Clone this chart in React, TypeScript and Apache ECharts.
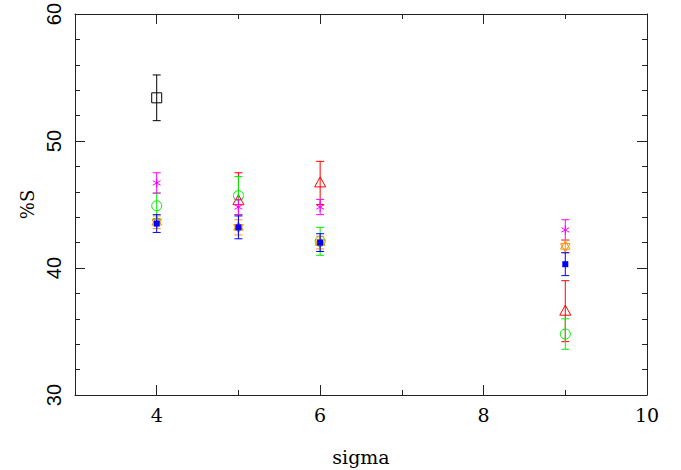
import React, { useEffect, useRef } from "react";
import * as echarts from "echarts";

const sigmaValues = [4, 5, 6, 9];

const blackVals = [53.4, null, null, null];
const blackErr = [1.8, null, null, null];
const redVals = [null, 45.3, 46.7, 36.6];
const redErr = [null, 2.2, 1.7, 2.4];
const greenVals = [44.9, 45.7, 42.1, 34.8];
const greenErr = [1.0, 1.5, 1.1, 1.2];
const magentaVals = [46.7, 44.8, 44.8, 43.0];
const magentaErr = [0.8, 0.6, 0.6, 0.8];
const orangeVals = [43.6, 43.2, 42.0, 41.7];
const orangeErr = [0.5, 0.6, 0.5, 0.5];
const blueVals = [43.5, 43.2, 42.0, 40.3];
const blueErr = [0.7, 0.9, 0.7, 0.9];

const xMajorTicks = [4, 6, 8, 10];
const xMinorTicks = [5, 7, 9];
const yTickLabels = [30, 40, 50, 60];
const yAxisTitle = "%S";
const xAxisTitle = "sigma";

function buildData(vals: (number | null)[], errs: (number | null)[]) {
  const out: number[][] = [];
  vals.forEach((v, i) => {
    if (v !== null && errs[i] !== null) {
      out.push([sigmaValues[i], v, v - (errs[i] as number), v + (errs[i] as number)]);
    }
  });
  return out;
}

function marker(shape: string, p: number[], color: string): any {
  const [cx, cy] = p;
  const stroke = { stroke: color, lineWidth: 1, fill: "none" };
  switch (shape) {
    case "square":
      return { type: "rect", shape: { x: cx - 5, y: cy - 5, width: 10, height: 10 }, style: stroke };
    case "filledSquare":
      return { type: "rect", shape: { x: cx - 3, y: cy - 3, width: 6, height: 6 }, style: { fill: color } };
    case "circle":
      return { type: "circle", shape: { cx, cy, r: 5 }, style: stroke };
    case "triangle":
      return {
        type: "polygon",
        shape: { points: [[cx, cy - 6], [cx - 5.5, cy + 4], [cx + 5.5, cy + 4]] },
        style: stroke,
      };
    case "asterisk": {
      const r = 4.5;
      const a = r * Math.cos(Math.PI / 6);
      const b = r * Math.sin(Math.PI / 6);
      return {
        type: "group",
        children: [
          { type: "line", shape: { x1: cx, y1: cy - r, x2: cx, y2: cy + r }, style: stroke },
          { type: "line", shape: { x1: cx - a, y1: cy - b, x2: cx + a, y2: cy + b }, style: stroke },
          { type: "line", shape: { x1: cx - a, y1: cy + b, x2: cx + a, y2: cy - b }, style: stroke },
        ],
      };
    }
    case "star": {
      const r = 5.5;
      const t1: number[][] = [];
      const t2: number[][] = [];
      for (let k = 0; k < 3; k++) {
        const ang1 = -Math.PI / 2 + (k * 2 * Math.PI) / 3;
        const ang2 = Math.PI / 2 + (k * 2 * Math.PI) / 3;
        t1.push([cx + r * Math.cos(ang1), cy + r * Math.sin(ang1)]);
        t2.push([cx + r * Math.cos(ang2), cy + r * Math.sin(ang2)]);
      }
      return {
        type: "group",
        children: [
          { type: "polygon", shape: { points: t1 }, style: stroke },
          { type: "polygon", shape: { points: t2 }, style: stroke },
        ],
      };
    }
  }
  return null;
}

function makeSeries(name: string, vals: (number | null)[], errs: (number | null)[], color: string, shape: string) {
  return {
    type: "custom",
    name,
    xAxisIndex: 0,
    yAxisIndex: 0,
    data: buildData(vals, errs),
    encode: { x: 0, y: [1, 2, 3] },
    renderItem: (params: any, api: any) => {
      const x = api.value(0);
      const p = api.coord([x, api.value(1)]);
      const pl = api.coord([x, api.value(2)]);
      const ph = api.coord([x, api.value(3)]);
      const cap = 4;
      const st = { stroke: color, lineWidth: 1, fill: "none" };
      return {
        type: "group",
        children: [
          { type: "line", shape: { x1: pl[0], y1: pl[1], x2: ph[0], y2: ph[1] }, style: st },
          { type: "line", shape: { x1: pl[0] - cap, y1: pl[1], x2: pl[0] + cap, y2: pl[1] }, style: st },
          { type: "line", shape: { x1: ph[0] - cap, y1: ph[1], x2: ph[0] + cap, y2: ph[1] }, style: st },
          marker(shape, p, color),
        ],
      };
    },
  };
}

export default function App() {
  const ref = useRef<HTMLDivElement>(null);
  useEffect(() => {
    document.body.style.margin = "0";
    const chart = echarts.init(ref.current!, undefined, { renderer: "svg" });
    const axisColor = "#222";
    const serif = "'DejaVu Serif', serif";
    const sans = "'Liberation Sans', Arial, sans-serif";
    const baseX = { type: "value", min: 3, max: 10, splitLine: { show: false }, gridIndex: 0 };
    const gridLeft = 75;
    const gridTop = 14;
    const gridBottom = 75;
    const option: any = {
      animation: false,
      backgroundColor: "#fff",
      grid: { left: gridLeft, right: 34, top: gridTop, bottom: gridBottom, containLabel: false, outerBoundsMode: "none" },
      xAxis: [
        {
          ...baseX,
          position: "bottom",
          name: xAxisTitle,
          nameLocation: "middle",
          nameGap: 52,
          nameTextStyle: { fontFamily: serif, fontSize: 19, color: "#000" },
          axisLine: { show: true, onZero: false, lineStyle: { color: axisColor, width: 1 } },
          axisTick: { show: true, inside: true, length: 10, customValues: xMajorTicks, lineStyle: { color: axisColor } },
          axisLabel: { show: true, customValues: xMajorTicks, fontFamily: serif, fontSize: 19, color: "#000", margin: 10 },
        },
        {
          ...baseX,
          position: "bottom",
          axisLine: { show: false, onZero: false },
          axisTick: { show: true, inside: true, length: 5, customValues: xMinorTicks, lineStyle: { color: axisColor } },
          axisLabel: { show: false },
        },
        {
          ...baseX,
          position: "top",
          axisLine: { show: true, onZero: false, lineStyle: { color: axisColor, width: 1 } },
          axisTick: { show: true, inside: true, length: 10, customValues: xMajorTicks, lineStyle: { color: axisColor } },
          axisLabel: { show: false },
        },
        {
          ...baseX,
          position: "top",
          axisLine: { show: false, onZero: false },
          axisTick: { show: true, inside: true, length: 5, customValues: xMinorTicks, lineStyle: { color: axisColor } },
          axisLabel: { show: false },
        },
      ],
      yAxis: [
        {
          type: "value",
          min: 30,
          max: 60,
          interval: 10,
          position: "left",
          splitLine: { show: false },
          axisLine: { show: true, onZero: false, lineStyle: { color: axisColor, width: 1 } },
          axisTick: { show: true, inside: true, length: 10, lineStyle: { color: axisColor } },
          minorTick: { show: true, splitNumber: 5, length: 5, lineStyle: { color: axisColor } },
          axisLabel: { show: false },
        },
        {
          type: "value",
          min: 30,
          max: 60,
          interval: 10,
          position: "right",
          splitLine: { show: false },
          axisLine: { show: true, onZero: false, lineStyle: { color: axisColor, width: 1 } },
          axisTick: { show: true, inside: true, length: 10, lineStyle: { color: axisColor } },
          minorTick: { show: true, splitNumber: 5, length: 5, lineStyle: { color: axisColor } },
          axisLabel: { show: false },
        },
      ],
      series: [
        makeSeries("black", blackVals, blackErr, "#000000", "square"),
        makeSeries("red", redVals, redErr, "#ff0000", "triangle"),
        makeSeries("green", greenVals, greenErr, "#00f000", "circle"),
        makeSeries("magenta", magentaVals, magentaErr, "#ff00ff", "asterisk"),
        makeSeries("orange", orangeVals, orangeErr, "#ff8c00", "star"),
        makeSeries("blue", blueVals, blueErr, "#0000ff", "filledSquare"),
      ],
    };
    chart.setOption(option);

    const labelEls: any[] = yTickLabels.map((v) => {
      const py = chart.convertToPixel({ yAxisIndex: 0 }, v) as number;
      return {
        type: "text",
        x: 54,
        y: py,
        rotation: Math.PI / 2,
        style: {
          text: String(v),
          fontFamily: sans,
          fontSize: 20,
          fill: "#000",
          align: "center",
          verticalAlign: "middle",
        },
      };
    });
    const yTop = chart.convertToPixel({ yAxisIndex: 0 }, 60) as number;
    const yBot = chart.convertToPixel({ yAxisIndex: 0 }, 30) as number;
    labelEls.push({
      type: "text",
      x: 27,
      y: (yTop + yBot) / 2,
      rotation: Math.PI / 2,
      style: {
        text: yAxisTitle,
        fontFamily: serif,
        fontSize: 18,
        fill: "#000",
        align: "center",
        verticalAlign: "middle",
      },
    });
    chart.setOption({ graphic: labelEls });
    return () => chart.dispose();
  }, []);
  return <div ref={ref} style={{ width: 681, height: 470 }} />;
}
